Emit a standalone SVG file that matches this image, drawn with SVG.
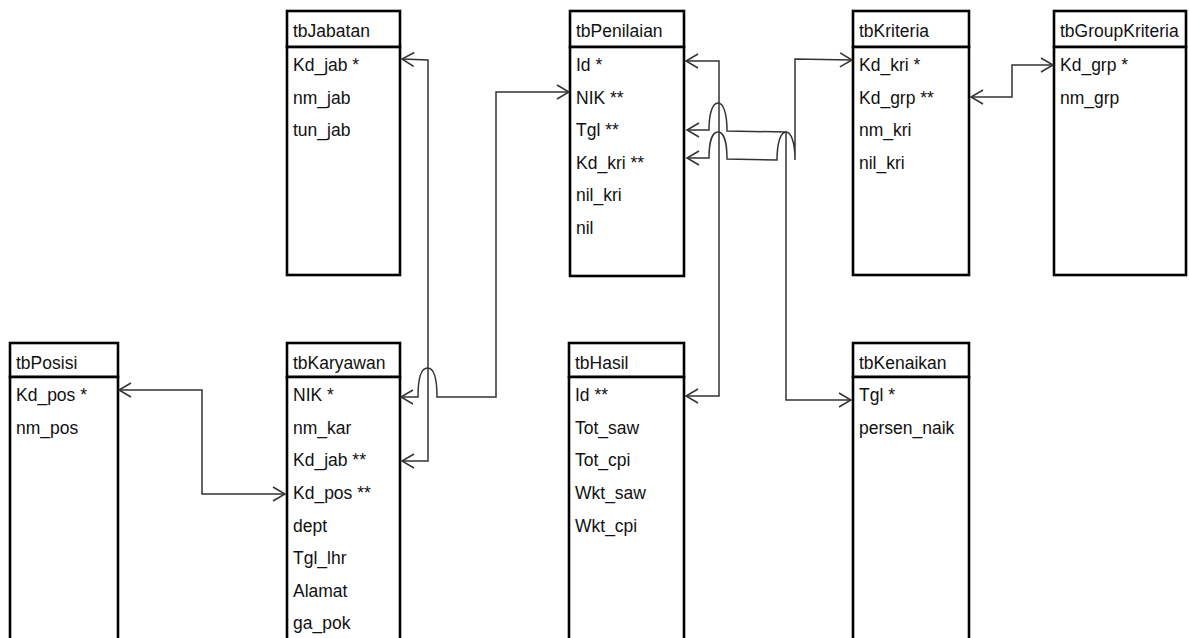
<svg xmlns="http://www.w3.org/2000/svg" width="1189" height="638" viewBox="0 0 1189 638">
<style>
.box{fill:#fff;stroke:#000;stroke-width:2.6}
.t{font-family:"Liberation Sans",Arial,sans-serif;font-size:17.5px;fill:#111}
.c{fill:none;stroke:#333;stroke-width:1.5;marker-start:url(#ar);marker-end:url(#ar)}
</style>
<defs>
<marker id="ar" markerUnits="userSpaceOnUse" markerWidth="16" markerHeight="18" refX="13" refY="8" orient="auto-start-reverse" viewBox="0 0 16 18">
<path d="M1,1 L13,8 L1,15" fill="none" stroke="#333" stroke-width="1.5"/>
</marker>
</defs>
<rect width="1189" height="638" fill="#fff"/>

<g id="tbJabatan">
<rect class="box" x="287" y="11" width="113" height="36"/>
<rect class="box" x="287" y="47" width="113" height="228"/>
<text class="t" x="293" y="37">tbJabatan</text>
<text class="t" x="293" y="71">Kd_jab *</text>
<text class="t" x="293" y="104">nm_jab</text>
<text class="t" x="293" y="136">tun_jab</text>
</g>

<g id="tbPenilaian">
<rect class="box" x="570" y="11" width="114" height="36"/>
<rect class="box" x="570" y="47" width="114" height="229"/>
<text class="t" x="576" y="37">tbPenilaian</text>
<text class="t" x="576" y="71">Id *</text>
<text class="t" x="576" y="104">NIK **</text>
<text class="t" x="576" y="136">Tgl **</text>
<text class="t" x="576" y="169">Kd_kri **</text>
<text class="t" x="576" y="201">nil_kri</text>
<text class="t" x="576" y="234">nil</text>
</g>

<g id="tbKriteria">
<rect class="box" x="853" y="11" width="116" height="36"/>
<rect class="box" x="853" y="47" width="116" height="228"/>
<text class="t" x="859" y="37">tbKriteria</text>
<text class="t" x="859" y="71">Kd_kri *</text>
<text class="t" x="859" y="104">Kd_grp **</text>
<text class="t" x="859" y="136">nm_kri</text>
<text class="t" x="859" y="169">nil_kri</text>
</g>

<g id="tbGroupKriteria">
<rect class="box" x="1054" y="11" width="132" height="36"/>
<rect class="box" x="1054" y="47" width="132" height="228"/>
<text class="t" x="1060" y="37">tbGroupKriteria</text>
<text class="t" x="1060" y="71">Kd_grp *</text>
<text class="t" x="1060" y="104">nm_grp</text>
</g>

<g id="tbPosisi">
<rect class="box" x="10" y="343" width="108" height="34"/>
<rect class="box" x="10" y="377" width="108" height="280"/>
<text class="t" x="16" y="369">tbPosisi</text>
<text class="t" x="16" y="401">Kd_pos *</text>
<text class="t" x="16" y="434">nm_pos</text>
</g>

<g id="tbKaryawan">
<rect class="box" x="287" y="343" width="113" height="34"/>
<rect class="box" x="287" y="377" width="113" height="280"/>
<text class="t" x="293" y="369">tbKaryawan</text>
<text class="t" x="293" y="401">NIK *</text>
<text class="t" x="293" y="434">nm_kar</text>
<text class="t" x="293" y="466">Kd_jab **</text>
<text class="t" x="293" y="499">Kd_pos **</text>
<text class="t" x="293" y="532">dept</text>
<text class="t" x="293" y="564">Tgl_lhr</text>
<text class="t" x="293" y="597">Alamat</text>
<text class="t" x="293" y="629">ga_pok</text>
</g>

<g id="tbHasil">
<rect class="box" x="569" y="343" width="115" height="34"/>
<rect class="box" x="569" y="377" width="115" height="280"/>
<text class="t" x="575" y="369">tbHasil</text>
<text class="t" x="575" y="401">Id **</text>
<text class="t" x="575" y="434">Tot_saw</text>
<text class="t" x="575" y="466">Tot_cpi</text>
<text class="t" x="575" y="499">Wkt_saw</text>
<text class="t" x="575" y="532">Wkt_cpi</text>
</g>

<g id="tbKenaikan">
<rect class="box" x="853" y="343" width="116" height="34"/>
<rect class="box" x="853" y="377" width="116" height="280"/>
<text class="t" x="859" y="369">tbKenaikan</text>
<text class="t" x="859" y="401">Tgl *</text>
<text class="t" x="859" y="434">persen_naik</text>
</g>

<g id="connectors">
<path class="c" d="M402,59 L428,60 L428,461 L402,461"/>
<path class="c" d="M401,397 L418,397 C418,378 421,368 427.5,368 C434,368 437,378 437,397 L496,397 L496,92 L569,92"/>
<path class="c" d="M119,390 L202,390 L202,494 L285,494"/>
<path class="c" d="M686,61 L719,61 L719,396 L686,396"/>
<path class="c" d="M687,130 L709,130 C709,112 713,103 718,103 C723,103 727,112 727,131 L786,132 L786,400 L851,400"/>
<path class="c" d="M687,158 L709,158 C709,140 713,132 718,132 C723,132 727,140 727,159 L777,160 C777,142 781,132 786,132 C791,132 795,142 795,160 L795,59 L852,60"/>
<path class="c" d="M971,97 L1012,97 L1012,65 L1053,65"/>
</g>
</svg>
